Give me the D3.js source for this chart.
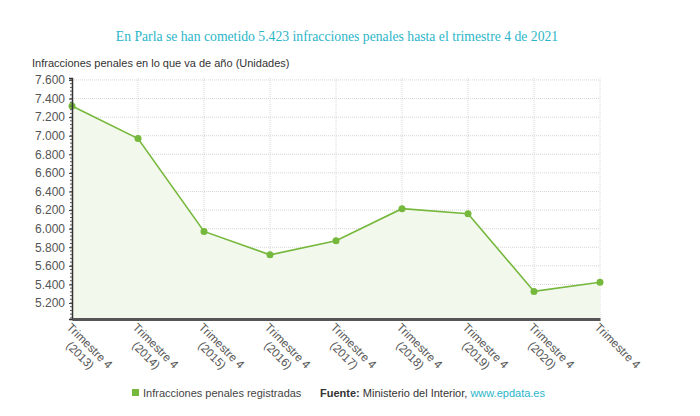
<!DOCTYPE html>
<html>
<head>
<meta charset="utf-8">
<script src="https://cdn.jsdelivr.net/npm/d3@7"></script>
<style>
  body { margin: 0; background: #fff; }
  svg { font-family: "Liberation Sans", Arial, sans-serif; }
</style>
</head>
<body>
<div id="chart"></div>
<script>
// data
const periods = ["Trimestre 4", "Trimestre 4", "Trimestre 4", "Trimestre 4", "Trimestre 4",
                 "Trimestre 4", "Trimestre 4", "Trimestre 4", "Trimestre 4"];
const years = ["(2013)", "(2014)", "(2015)", "(2016)", "(2017)", "(2018)", "(2019)", "(2020)", ""];
const values = [7320, 6970, 5970, 5718, 5870, 6215, 6160, 5325, 5423];
const yTicks = [5200, 5400, 5600, 5800, 6000, 6200, 6400, 6600, 6800, 7000, 7200, 7400, 7600];

const W = 700, H = 416;
const margin = {top: 78, right: 100, bottom: 97, left: 72};
const width = W - margin.left - margin.right;
const height = H - margin.top - margin.bottom;

const svg = d3.select("#chart").append("svg")
    .attr("width", W)
    .attr("height", H);

// title
svg.append("text")
    .attr("x", 337)
    .attr("y", 41)
    .attr("text-anchor", "middle")
    .style("font-family", "'Liberation Serif', 'Times New Roman', serif")
    .style("font-size", "13.7px")
    .style("fill", "#2bb5c9")
    .text("En Parla se han cometido 5.423 infracciones penales hasta el trimestre 4 de 2021");

svg.append("text")
    .attr("x", 32)
    .attr("y", 67)
    .style("font-size", "11px")
    .style("fill", "#333")
    .text("Infracciones penales en lo que va de año (Unidades)");

const g = svg.append("g")
    .attr("transform", `translate(${margin.left},${margin.top})`);

const idx = d3.range(values.length);
const x = d3.scalePoint().domain(idx).range([0, width]);
const y = d3.scaleLinear().domain([5028, 7621]).range([height, 0]);

// grid
g.append("g").selectAll("line").data(yTicks).enter().append("line")
    .attr("x1", 0).attr("x2", width)
    .attr("y1", d => y(d)).attr("y2", d => y(d))
    .attr("stroke", "#d6d6d6")
    .attr("stroke-dasharray", "1,1");
g.append("g").selectAll("line").data(idx.slice(1)).enter().append("line")
    .attr("x1", d => x(d)).attr("x2", d => x(d))
    .attr("y1", 0).attr("y2", height)
    .attr("stroke", "#d6d6d6")
    .attr("stroke-dasharray", "1,1");

// area + line
const area = d3.area()
    .x((d, i) => x(i))
    .y0(height)
    .y1(d => y(d));
const line = d3.line()
    .x((d, i) => x(i))
    .y(d => y(d));

g.append("path").datum(values)
    .attr("d", area)
    .attr("fill", "#f3f8ed");
g.append("path").datum(values)
    .attr("d", line)
    .attr("fill", "none")
    .attr("stroke", "#76b83c")
    .attr("stroke-width", 1.6);

g.selectAll(".dot").data(values).enter().append("circle")
    .attr("class", "dot")
    .attr("cx", (d, i) => x(i))
    .attr("cy", d => y(d))
    .attr("r", 3.5)
    .attr("fill", "#76b83c");

// y axis
const yAxis = g.append("g")
    .call(d3.axisLeft(y).tickValues(yTicks).tickSize(3).tickFormat(d => d3.format(",")(d).replace(",", ".")));
yAxis.select(".domain").attr("stroke", "#333").attr("stroke-width", 1.5);
yAxis.selectAll(".tick line").attr("stroke", "#333");
yAxis.selectAll("text")
    .attr("x", -7)
    .style("font-size", "12px")
    .style("fill", "#555")
    .style("font-family", "'Liberation Sans', Arial, sans-serif");

// minor ticks on y axis
g.append("g").selectAll("line").data(d3.range(5040, 7620, 40)).enter().append("line")
    .attr("x1", -2).attr("x2", 0)
    .attr("y1", d => y(d)).attr("y2", d => y(d))
    .attr("stroke", "#555");

// x axis
const xAxis = g.append("g")
    .attr("transform", `translate(0,${height})`)
    .call(d3.axisBottom(x).tickSize(0).tickFormat(""));
xAxis.select(".domain").attr("stroke", "#555").attr("stroke-width", 3);

const labels = g.append("g").selectAll("text").data(idx).enter().append("text")
    .attr("transform", d => `translate(${x(d) - 3},${height + 6}) rotate(45)`)
    .attr("text-anchor", "middle")
    .style("font-size", "11.7px")
    .style("fill", "#555");
const first = labels.append("tspan")
    .attr("dy", "0.35em")
    .text(d => periods[d]);
const half = first.node().getComputedTextLength() / 2;
first.attr("x", half);
labels.append("tspan")
    .attr("x", half).attr("dy", "1.15em")
    .text(d => years[d]);

// legend
const leg = svg.append("g").attr("transform", "translate(0,397)");
leg.append("rect")
    .attr("x", 132).attr("y", -8)
    .attr("width", 7).attr("height", 7)
    .attr("fill", "#76b83c");
leg.append("text")
    .attr("x", 143).attr("y", 0)
    .style("font-size", "11px")
    .style("fill", "#444")
    .text("Infracciones penales registradas");
const src = leg.append("text")
    .attr("x", 320).attr("y", 0)
    .style("font-size", "11px")
    .style("fill", "#333");
src.append("tspan").style("font-weight", "bold").text("Fuente:");
src.append("tspan").text(" Ministerio del Interior, ");
src.append("tspan").style("fill", "#2bb5c9").text("www.epdata.es");
</script>
</body>
</html>
